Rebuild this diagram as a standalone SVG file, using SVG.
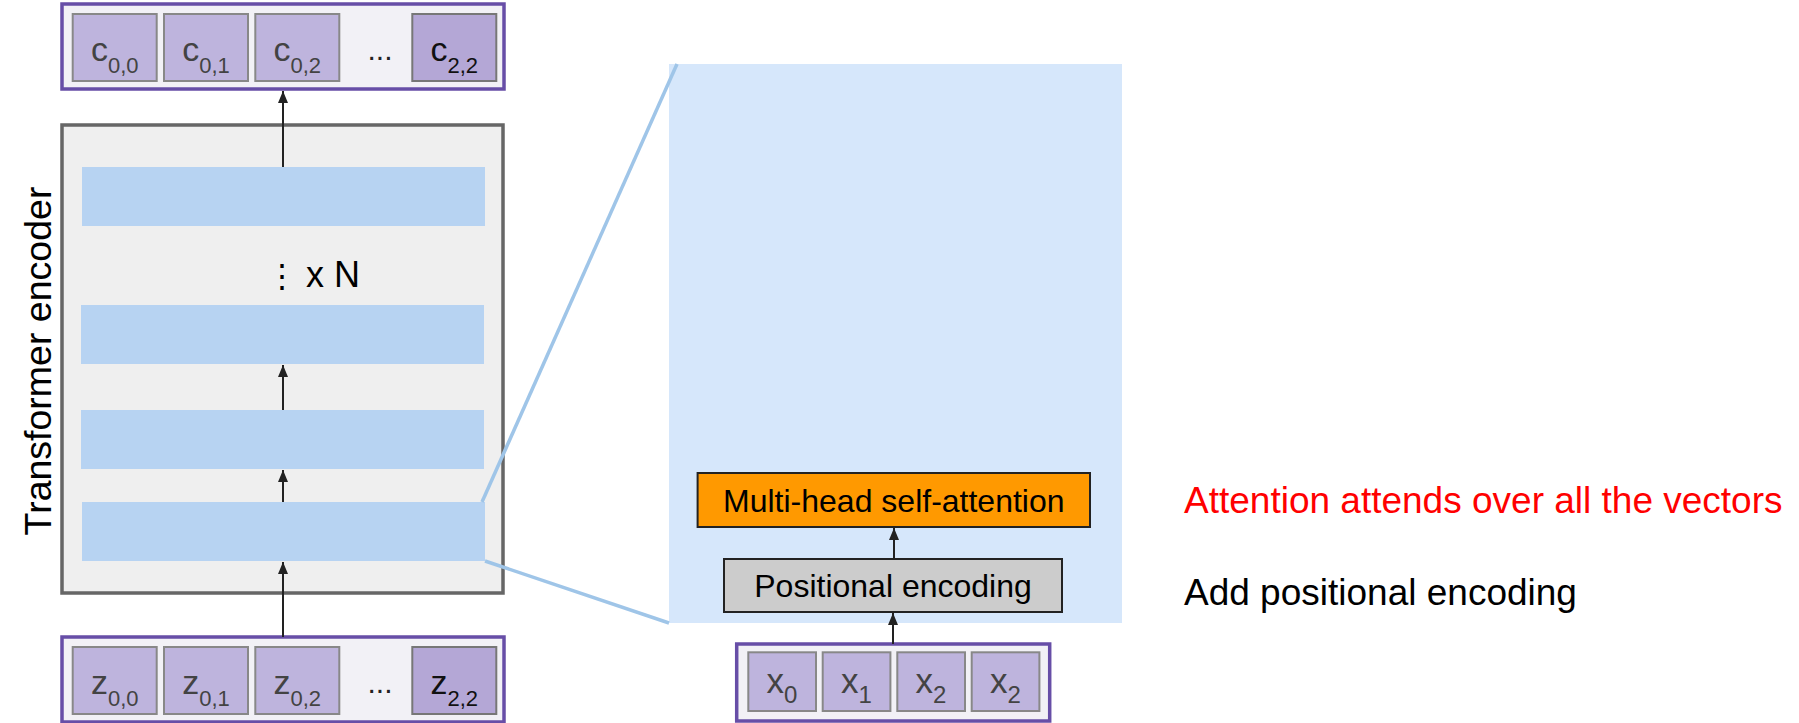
<svg xmlns="http://www.w3.org/2000/svg" width="1799" height="723" viewBox="0 0 1799 723">
<style>
text{font-family:"Liberation Sans",Arial,sans-serif}
.outer{fill:#f2f1f6;stroke:#674ea7;stroke-width:3.5}
.cell{fill:#beb4dd;stroke:#888888;stroke-width:2}
.cellD{fill:#b4a7d6;stroke:#777777;stroke-width:2}
.ct{font-size:34px;fill:#434343;text-anchor:middle}
.ctD{font-size:34px;fill:#111111;text-anchor:middle}
.xt{font-size:35px;fill:#434343;text-anchor:middle}
.bar{fill:#b7d3f2}
.zoom{stroke:#9fc5e8;stroke-width:3.5;fill:none}
.lbl{font-size:32px;fill:#000000;text-anchor:middle}
.note{font-size:37px}
</style>
<defs>
<marker id="arr" markerUnits="userSpaceOnUse" markerWidth="12" markerHeight="10" refX="12" refY="5" orient="auto" viewBox="0 0 12 10">
<path d="M0,0 L12,5 L0,10 z" fill="#222222"/>
</marker>
</defs>
<rect x="0" y="0" width="1799" height="723" fill="#ffffff"/>

<g id="zoom-panel">
<rect x="669" y="64" width="453" height="559" fill="#d6e7fb"/>
</g>

<g id="output-tokens">
<rect class="outer" x="62" y="4" width="442" height="85"/>
<rect class="cell" x="72.7" y="14" width="84" height="67"/>
<text class="ct" x="114.7" y="61">c<tspan font-size="22" dy="12">0,0</tspan></text>
<rect class="cell" x="164" y="14" width="84" height="67"/>
<text class="ct" x="206" y="61">c<tspan font-size="22" dy="12">0,1</tspan></text>
<rect class="cell" x="255.3" y="14" width="84" height="67"/>
<text class="ct" x="297.3" y="61">c<tspan font-size="22" dy="12">0,2</tspan></text>
<text x="380" y="60" font-size="30" fill="#222222" text-anchor="middle">...</text>
<rect class="cellD" x="412.3" y="14" width="84" height="67"/>
<text class="ctD" x="454.3" y="61">c<tspan font-size="22" dy="12">2,2</tspan></text>
</g>

<g id="transformer-encoder">
<rect x="62" y="125" width="441" height="468" fill="#efefef" stroke="#666666" stroke-width="3.5"/>
<text transform="translate(50.5,361) rotate(-90)" font-size="37.5" fill="#000000" text-anchor="middle">Transformer encoder</text>
</g>
<g id="layer-N">
<rect class="bar" x="82" y="167" width="403" height="59"/>
</g>
<g id="repeat-label">
<text x="282" y="287" font-size="32" fill="#000000" text-anchor="middle" font-family="DejaVu Sans, sans-serif">⋮</text>
<text x="306" y="287" font-size="36" fill="#000000">x N</text>
</g>
<g id="layer-3">
<rect class="bar" x="81" y="305" width="403" height="59"/>
</g>
<g id="layer-2">
<rect class="bar" x="81" y="410" width="403" height="59"/>
</g>
<g id="layer-1">
<rect class="bar" x="82" y="502" width="403" height="59"/>
</g>

<g id="zoom-lines">
<line class="zoom" x1="482" y1="502" x2="677" y2="64"/>
<line class="zoom" x1="485" y1="561" x2="669" y2="623"/>
</g>

<g id="input-tokens">
<rect class="outer" x="62" y="637" width="442" height="85"/>
<rect class="cell" x="72.7" y="647" width="84" height="67"/>
<text class="ct" x="114.7" y="694">z<tspan font-size="22" dy="12">0,0</tspan></text>
<rect class="cell" x="164" y="647" width="84" height="67"/>
<text class="ct" x="206" y="694">z<tspan font-size="22" dy="12">0,1</tspan></text>
<rect class="cell" x="255.3" y="647" width="84" height="67"/>
<text class="ct" x="297.3" y="694">z<tspan font-size="22" dy="12">0,2</tspan></text>
<text x="380" y="693" font-size="30" fill="#222222" text-anchor="middle">...</text>
<rect class="cellD" x="412.3" y="647" width="84" height="67"/>
<text class="ctD" x="454.3" y="694">z<tspan font-size="22" dy="12">2,2</tspan></text>
</g>

<g id="multi-head-self-attention">
<rect x="697.6" y="473" width="392.4" height="54" fill="#ff9900" stroke="#222222" stroke-width="2"/>
<text class="lbl" x="893.8" y="511.5">Multi-head self-attention</text>
</g>
<g id="positional-encoding">
<rect x="724" y="559" width="338" height="53" fill="#cccccc" stroke="#222222" stroke-width="2"/>
<text class="lbl" x="893" y="596.5">Positional encoding</text>
</g>

<g id="x-tokens">
<rect class="outer" x="736.7" y="644" width="313" height="77"/>
<rect class="cell" x="748.3" y="652.3" width="67.7" height="58.7"/>
<text class="xt" x="782" y="693">x<tspan font-size="24" dy="10">0</tspan></text>
<rect class="cell" x="822.7" y="652.3" width="67.7" height="58.7"/>
<text class="xt" x="856.5" y="693">x<tspan font-size="24" dy="10">1</tspan></text>
<rect class="cell" x="897.3" y="652.3" width="67.7" height="58.7"/>
<text class="xt" x="931" y="693">x<tspan font-size="24" dy="10">2</tspan></text>
<rect class="cell" x="971.7" y="652.3" width="67.7" height="58.7"/>
<text class="xt" x="1005.5" y="693">x<tspan font-size="24" dy="10">2</tspan></text>
</g>

<g id="notes">
<text class="note" x="1184" y="513" fill="#ff0000">Attention attends over all the vectors</text>
<text class="note" x="1184" y="605" fill="#000000">Add positional encoding</text>
</g>

<g id="connectors" stroke="#222222" stroke-width="2" fill="none">
<line x1="283" y1="167" x2="283" y2="91" marker-end="url(#arr)"/>
<line x1="283" y1="410" x2="283" y2="365" marker-end="url(#arr)"/>
<line x1="283" y1="502" x2="283" y2="470" marker-end="url(#arr)"/>
<line x1="283" y1="637" x2="283" y2="562" marker-end="url(#arr)"/>
<line x1="893" y1="644" x2="893" y2="613" marker-end="url(#arr)"/>
<line x1="894" y1="559" x2="894" y2="528" marker-end="url(#arr)"/>
</g>
</svg>
